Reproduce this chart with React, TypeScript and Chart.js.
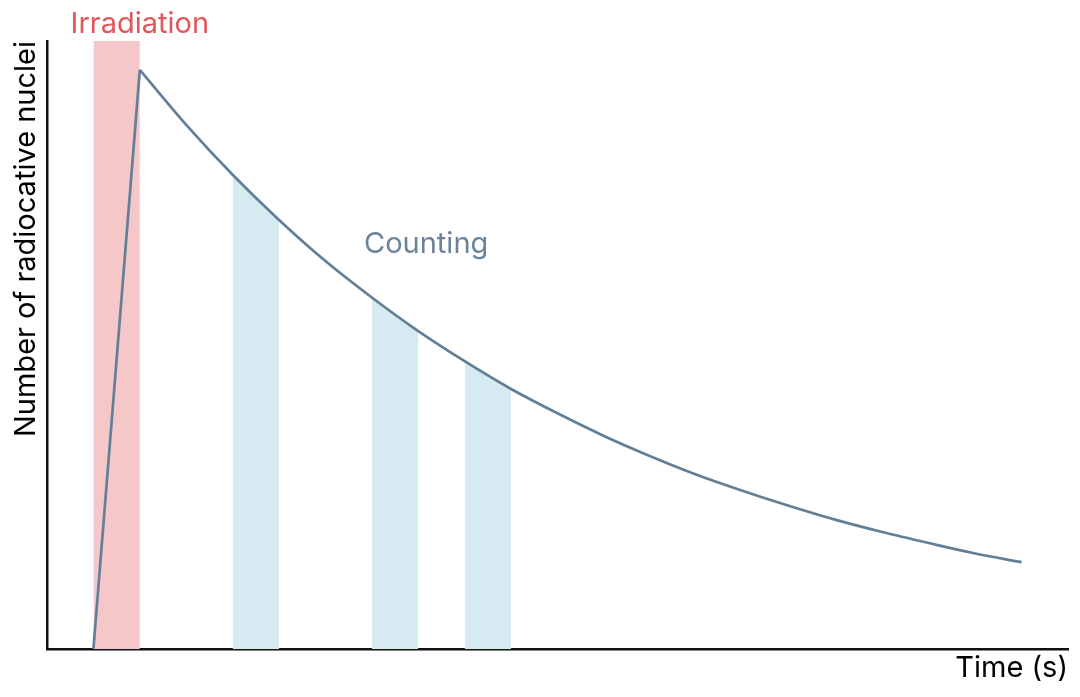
import React, { useEffect, useRef } from "react";
import { Chart, registerables } from "chart.js";

Chart.register(...registerables);

// Time axis (arbitrary units) and relative number of radioactive nuclei
const riseTimes = [1, 2];
const riseValues = [0, 1.0];

const decayTimes = [2, 3, 4, 5, 6, 7, 8, 9, 10, 11, 12, 13, 14, 15, 16, 17, 18, 19, 20, 21];
const decayValues = [1.0, 0.905, 0.819, 0.741, 0.67, 0.607, 0.549, 0.497, 0.449, 0.407, 0.368, 0.333, 0.301, 0.273, 0.247, 0.223, 0.202, 0.183, 0.165, 0.15];

const irradiationTimes = [1, 2];
const irradiationValues = [1.05, 1.05];

const countTimes1 = [4, 4.5, 5];
const countValues1 = [0.819, 0.779, 0.741];
const countTimes2 = [7, 7.5, 8];
const countValues2 = [0.607, 0.577, 0.549];
const countTimes3 = [9, 9.5, 10];
const countValues3 = [0.497, 0.472, 0.449];

const xMin = 0;
const xMax = 22;
const yMin = 0;
const yMax = 1.05;

const labels = [
  { text: "Irradiation", x: 2.0, y: 1.064, color: "#e0575b" },
  { text: "Counting", x: 8.17, y: 0.684, color: "#6a829a" },
];

const pts = (xs: number[], ys: number[]) => xs.map((x, i) => ({ x, y: ys[i] }));

const LINE = "#637f98";
const BLUE = "rgba(214,234,241,1)";
const RED = "rgba(245,199,201,1)";

export default function App() {
  const ref = useRef<HTMLCanvasElement | null>(null);

  useEffect(() => {
    document.body.style.margin = "0";
    const canvas = ref.current;
    if (!canvas) return;

    const textPlugin = {
      id: "textLabels",
      afterDatasetsDraw(chart: any) {
        const { ctx, scales } = chart;
        ctx.save();
        ctx.font = "29px Inter";
        ctx.textAlign = "center";
        ctx.textBaseline = "alphabetic";
        labels.forEach((l) => {
          const px = scales.x.getPixelForValue(l.x);
          const py = scales.y.getPixelForValue(l.y);
          ctx.fillStyle = l.color;
          ctx.fillText(l.text, px, py);
        });
        ctx.restore();
      },
    };

    const band = (data: any[], fill: string) => ({
      type: "line" as const,
      data,
      fill: "origin",
      backgroundColor: fill,
      borderColor: fill,
      borderWidth: 0,
      pointRadius: 0,
      tension: 0,
      order: 5,
    });

    const chart = new Chart(canvas, {
      type: "line",
      data: {
        datasets: [
          band(pts(irradiationTimes, irradiationValues), RED),
          band(pts(countTimes1, countValues1), BLUE),
          band(pts(countTimes2, countValues2), BLUE),
          band(pts(countTimes3, countValues3), BLUE),
          {
            data: pts(riseTimes, riseValues),
            borderColor: LINE,
            borderWidth: 2.7,
            pointRadius: 0,
            tension: 0,
            fill: false,
            order: 1,
          },
          {
            data: pts(decayTimes, decayValues),
            borderColor: LINE,
            borderWidth: 2.7,
            pointRadius: 0,
            cubicInterpolationMode: "monotone",
            fill: false,
            order: 1,
          },
        ],
      },
      options: {
        animation: false,
        responsive: false,
        layout: { padding: { top: 41, right: 12, left: 0, bottom: 0 } },
        plugins: { legend: { display: false }, tooltip: { enabled: false } },
        scales: {
          x: {
            type: "linear",
            min: xMin,
            max: xMax,
            grid: { display: false, drawTicks: false },
            border: { display: true, color: "#111", width: 2.5 },
            ticks: { display: false },
            title: {
              display: true,
              text: "Time (s)",
              align: "end",
              color: "#000",
              font: { family: "Inter", size: 29 },
              padding: { top: 0, bottom: 11.5 },
            },
            afterFit: (s: any) => {
              s.height = 48;
            },
          },
          y: {
            type: "linear",
            min: yMin,
            max: yMax,
            grid: { display: false, drawTicks: false },
            border: { display: true, color: "#111", width: 2.5 },
            ticks: { display: false },
            title: {
              display: true,
              text: "Number of radiocative nuclei",
              align: "end",
              color: "#000",
              font: { family: "Inter", size: 29 },
              padding: { top: 8.5, bottom: 0 },
            },
            afterFit: (s: any) => {
              s.width = 47;
            },
          },
        },
      },
      plugins: [textPlugin],
    } as any);

    return () => chart.destroy();
  }, []);

  return (
    <div style={{ width: 1080, height: 697 }}>
      <canvas ref={ref} width={1080} height={697} style={{ display: "block" }} />
    </div>
  );
}
